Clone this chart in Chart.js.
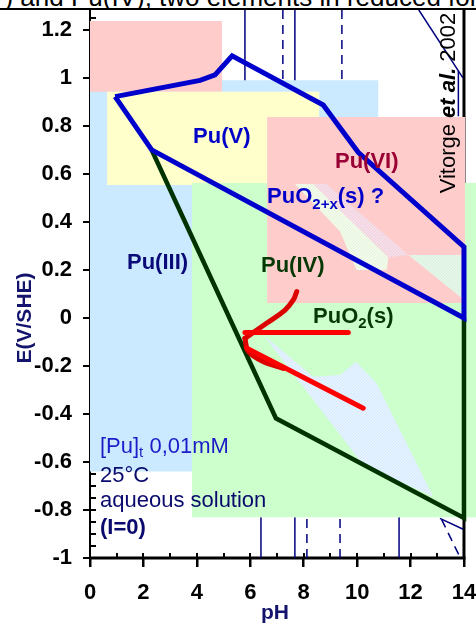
<!DOCTYPE html>
<html>
<head>
<meta charset="utf-8">
<script src="https://cdn.jsdelivr.net/npm/chart.js@4"></script>
<style>
  html, body { margin: 0; padding: 0; background: #fff; overflow: hidden; }
  #wrap { position: relative; width: 476px; height: 623px; }
  #capbox { position: absolute; left: 0; top: 0; width: 476px; height: 8px; overflow: hidden; }
  #caption { position: absolute; left: -62px; top: -16px; font: 26px "Liberation Sans", Arial, sans-serif; line-height: 26px; white-space: nowrap; color: #000; }
  #rule { position: absolute; left: 0; top: 8px; width: 476px; height: 2px; background: #000; }
  #chart { position: absolute; left: 0; top: 0; }
</style>
</head>
<body>
<div id="wrap">
  <div id="capbox"><div id="caption">Np(IV) and Pu(IV), two elements in reduced form</div></div>
  <div id="rule"></div>
  <canvas id="chart" width="476" height="623"></canvas>
</div>
<script>
const FONT = '"Liberation Sans", Arial, sans-serif';

const xMax = 14.45;
const yMin = -1;
const yMax = 1.283;
const xTicks = [0, 2, 4, 6, 8, 10, 12, 14];
const xTickLabels = ['0', '2', '4', '6', '8', '10', '12', '14'];
const yTicks = [-1, -0.8, -0.6, -0.4, -0.2, 0, 0.2, 0.4, 0.6, 0.8, 1, 1.2];
const yTickLabels = ['-1', '-0.8', '-0.6', '-0.4', '-0.2', '0', '0.2', '0.4', '0.6', '0.8', '1', '1.2'];

// coloured domains: [pH from, pH to, E low, E high]
const domPu3 = [0, 10.79, -0.64, 0.99];
const domPu6a = [0, 4.94, 0.942, 1.2375];
const domPu5 = [0.64, 8.58, 0.554, 0.942];
const domPuO2 = [3.82, 14.45, -0.83, 0.5625];
const domPu6b = [6.63, 14.04, 0.0625, 0.8375];

// hatched areas [pH, E]
const hatchA = [[7.67, 0.558], [8.36, 0.558], [11.17, 0.253], [11.11, 0.2], [9.98, 0.2], [9.36, 0.36]];
const hatchB = [[8.36, 0.558], [8.85, 0.558], [11.92, 0.2625], [11.17, 0.253]];
const hatchC = [[11.92, 0.2625], [13.91, 0.2625], [13.91, 0.083]];
const hatchD = [[6.49, -0.071], [8.36, -0.245], [9.36, -0.2375], [9.96, -0.182], [10.73, -0.272], [12.85, -0.745], [10.23, -0.6125]];

// boundaries
const bluePts = [[0.94, 0.922], [4.12, 0.99], [4.68, 1.0125], [5.32, 1.092], [8.73, 0.887], [10.04, 0.69], [14, 0.296], [14, 0], [2.31, 0.7], [0.94, 0.922]];
const greenPts = [[2.31, 0.7], [6.96, -0.418], [14, -0.833], [14, 0]];
const redUpper = [[7.74, 0.11], [7.61, 0.075], [7.3, 0.033], [6.61, -0.022], [5.8, -0.085]];
const redLower = [[5.8, -0.085], [5.93, -0.14], [6.49, -0.182], [7.24, -0.21]];
const redFlat = [[5.8, -0.061], [9.67, -0.061]];
const redSlope = [[5.87, -0.126], [10.23, -0.376]];

// thin navy guide lines
const navySolid = [
  [[5.8, yMax], [5.8, 0.95]], [[7.67, yMax], [7.67, 0.95]],
  [[13.79, 1.03], [13.79, 0.84]], [[12.31, yMax], [13.96, 1.0]],
  [[6.4, -1], [6.4, -0.83]], [[7.67, -1], [7.67, -0.83]], [[11.57, -1], [11.57, -0.83]],
  [[13.1, -0.835], [13.97, -0.88]]
];
const navyDashed = [
  [[7.22, yMax], [7.22, 0.95]], [[9.43, yMax], [9.43, 0.95]],
  [[8.12, -1], [8.12, -0.83]], [[9.36, -1], [9.36, -0.83]],
  [[13.16, -0.839], [13.83, -0.992]]
];

const pts = arr => arr.map(([x, y]) => ({x, y}));
const box = ([x0, x1, y0, y1]) => pts([[x0, y0], [x1, y0], [x1, y1], [x0, y1], [x0, y0]]);

function hatch(bg, fg) {
  const c = document.createElement('canvas');
  c.width = c.height = 3;
  const g = c.getContext('2d');
  g.fillStyle = bg; g.fillRect(0, 0, 3, 3);
  g.fillStyle = fg;
  for (let i = 0; i < 3; i++) g.fillRect(i, 2 - i, 1, 1);
  return g.createPattern(c, 'repeat');
}

const layers = [];
navySolid.forEach(s => layers.push({data: pts(s), borderColor: '#000080', borderWidth: 1.5}));
navyDashed.forEach(s => layers.push({data: pts(s), borderColor: '#000080', borderWidth: 1.5, borderDash: [9, 6]}));
const area = (data, color) => ({data, fill: 'shape', backgroundColor: color, borderColor: 'transparent', borderWidth: 0});
layers.push(area(box(domPu3), '#cceaff'));
layers.push(area(box(domPu6a), '#ffcccc'));
layers.push(area(box(domPu5), '#ffffcc'));
layers.push(area(box(domPuO2), '#ccffcc'));
layers.push(area(box(domPu6b), '#ffcccc'));
layers.push(area(pts(hatchA), hatch('#f3fbec', '#e4f3d9')));
layers.push(area(pts(hatchB), hatch('#f7e0e9', '#eed0dc')));
layers.push(area(pts(hatchC), hatch('#e6f7ea', '#d8f0de')));
layers.push(area(pts(hatchD), hatch('#e5f2ff', '#d6eafb')));
layers.push({data: pts(greenPts), borderColor: '#003300', borderWidth: 4.5});
layers.push({data: pts(bluePts), borderColor: '#0000cc', borderWidth: 5});
layers.push({data: pts(redUpper), borderColor: '#dd0000', borderWidth: 5, tension: 0.4, borderCapStyle: 'round'});
layers.push({data: pts(redLower), borderColor: '#dd0000', borderWidth: 5, tension: 0.4, borderCapStyle: 'round'});
layers.push({data: pts(redFlat), borderColor: '#ff0000', borderWidth: 5, borderCapStyle: 'round'});
layers.push({data: pts(redSlope), borderColor: '#ff0000', borderWidth: 5, borderCapStyle: 'round'});

const datasets = layers.map((d, i) => Object.assign({
  pointRadius: 0, tension: 0, fill: false, order: 100 - i, borderJoinStyle: 'miter'
}, d));

// text labels: [pH, E] of left baseline
const labels = [
  {at: [3.86, 0.727], parts: [{t: 'Pu(V)', w: 'bold', c: '#0000c8'}]},
  {at: [9.17, 0.623], parts: [{t: 'Pu(VI)', w: 'bold', c: '#990033'}]},
  {at: [6.63, 0.479], parts: [{t: 'PuO', w: 'bold', c: '#0000c8'}, {t: '2+x', w: 'bold', c: '#0000c8', s: 15, dy: 6}, {t: '(s) ?', w: 'bold', c: '#0000c8'}]},
  {at: [1.385, 0.206], parts: [{t: 'Pu(III)', w: 'bold', c: '#0a0a78'}]},
  {at: [6.4, 0.19], parts: [{t: 'Pu(IV)', w: 'bold', c: '#063806'}]},
  {at: [8.35, -0.02], parts: [{t: 'PuO', w: 'bold', c: '#063806'}, {t: '2', w: 'bold', c: '#063806', s: 15, dy: 5}, {t: '(s)', w: 'bold', c: '#063806'}]},
  {at: [0.374, -0.5625], parts: [{t: '[Pu]', c: '#1c1cc8'}, {t: 't', c: '#1c1cc8', s: 15, dy: 4}, {t: ' 0,01mM', c: '#1c1cc8'}]},
  {at: [0.374, -0.683], parts: [{t: '25°C', c: '#0a0a6e'}]},
  {at: [0.374, -0.7875], parts: [{t: 'aqueous solution', c: '#0a0a6e'}]},
  {at: [0.374, -0.898], parts: [{t: '(I=0)', w: 'bold', c: '#0a0a6e'}]}
];

function runs(ctx, x, y, parts) {
  ctx.textAlign = 'left';
  ctx.textBaseline = 'alphabetic';
  for (const p of parts) {
    ctx.font = (p.i ? 'italic ' : '') + (p.w || 'normal') + ' ' + (p.s || 22) + 'px ' + FONT;
    ctx.fillStyle = p.c || '#000';
    ctx.fillText(p.t, x, y + (p.dy || 0));
    x += ctx.measureText(p.t).width;
  }
  return x;
}
function runsWidth(ctx, parts) {
  let w = 0;
  for (const p of parts) {
    ctx.font = (p.i ? 'italic ' : '') + (p.w || 'normal') + ' ' + (p.s || 22) + 'px ' + FONT;
    w += ctx.measureText(p.t).width;
  }
  return w;
}

const decor = {
  id: 'decor',
  beforeDatasetsDraw(chart) {
    const {ctx, scales: {x, y}} = chart;
    ctx.save();
    ctx.strokeStyle = '#000';
    // frame at pH 14
    ctx.lineWidth = 3;
    ctx.beginPath();
    ctx.moveTo(x.getPixelForValue(14), y.getPixelForValue(yMin));
    ctx.lineTo(x.getPixelForValue(14), y.getPixelForValue(yMax));
    ctx.stroke();
    // inner ticks
    ctx.lineWidth = 2;
    ctx.beginPath();
    for (let k = -20; k <= 25; k++) {
      const py = Math.round(y.getPixelForValue(k * 0.05));
      ctx.moveTo(x.left, py);
      ctx.lineTo(x.left + 6, py);
    }
    for (let v = 0; v <= 14; v++) {
      const px = Math.round(x.getPixelForValue(v));
      ctx.moveTo(px, y.bottom);
      ctx.lineTo(px, y.bottom - 5);
    }
    ctx.stroke();
    // x axis line
    ctx.lineWidth = 3;
    ctx.beginPath();
    ctx.moveTo(x.getPixelForValue(0) - 1, y.bottom);
    ctx.lineTo(x.getPixelForValue(14) + 1.5, y.bottom);
    ctx.stroke();
    ctx.restore();
  },
  afterDatasetsDraw(chart) {
    const {ctx, scales: {x, y}} = chart;
    ctx.save();
    labels.forEach(l => runs(ctx, x.getPixelForValue(l.at[0]), y.getPixelForValue(l.at[1]), l.parts));

    // axis titles
    const yTitle = [{t: 'E(V/SHE)', w: 'bold', c: '#14146e', s: 21}];
    ctx.save();
    ctx.translate(31, y.getPixelForValue(0));
    ctx.rotate(-Math.PI / 2);
    runs(ctx, -runsWidth(ctx, yTitle) / 2, 0, yTitle);
    ctx.restore();
    const xTitle = [{t: 'pH', w: 'bold', c: '#14146e', s: 21}];
    runs(ctx, 275 - runsWidth(ctx, xTitle) / 2, 619, xTitle);

    // reference note
    const ref = [{t: 'Vitorge '}, {t: 'et al.', w: 'bold', i: true}, {t: ' 2002'}];
    ctx.save();
    ctx.translate(455, 103);
    ctx.rotate(-Math.PI / 2);
    runs(ctx, -runsWidth(ctx, ref) / 2, 0, ref);
    ctx.restore();
    ctx.restore();
  }
};

new Chart(document.getElementById('chart'), {
  type: 'line',
  data: {datasets},
  options: {
    responsive: false,
    animation: false,
    layout: {padding: {top: 10, left: 0, right: 0, bottom: 0}},
    plugins: {legend: {display: false}, tooltip: {enabled: false}},
    scales: {
      x: {
        type: 'linear', min: 0, max: xMax,
        afterBuildTicks: s => { s.ticks = xTicks.map(v => ({value: v})); },
        afterFit: s => { s.height = 65; s.paddingLeft = 0; s.paddingRight = 0; },
        ticks: {
          callback: (v, i) => xTickLabels[i], autoSkip: false, maxRotation: 0,
          color: '#000', padding: 13, font: {size: 22, weight: 'bold', family: FONT}
        },
        grid: {drawOnChartArea: false, tickLength: 9, tickColor: '#000', lineWidth: 2.5, tickWidth: 2.5},
        border: {display: false}
      },
      y: {
        type: 'linear', min: yMin, max: yMax,
        afterBuildTicks: s => { s.ticks = yTicks.map(v => ({value: v})); },
        afterFit: s => { s.width = 90; s.paddingTop = 0; s.paddingBottom = 0; },
        ticks: {
          callback: (v, i) => yTickLabels[i],
          color: '#000', padding: 11, font: {size: 22, weight: 'bold', family: FONT}
        },
        grid: {drawOnChartArea: false, tickLength: 7, tickColor: '#000', lineWidth: 2, tickWidth: 2},
        border: {display: true, color: '#000', width: 2}
      }
    }
  },
  plugins: [decor]
});
</script>
</body>
</html>
